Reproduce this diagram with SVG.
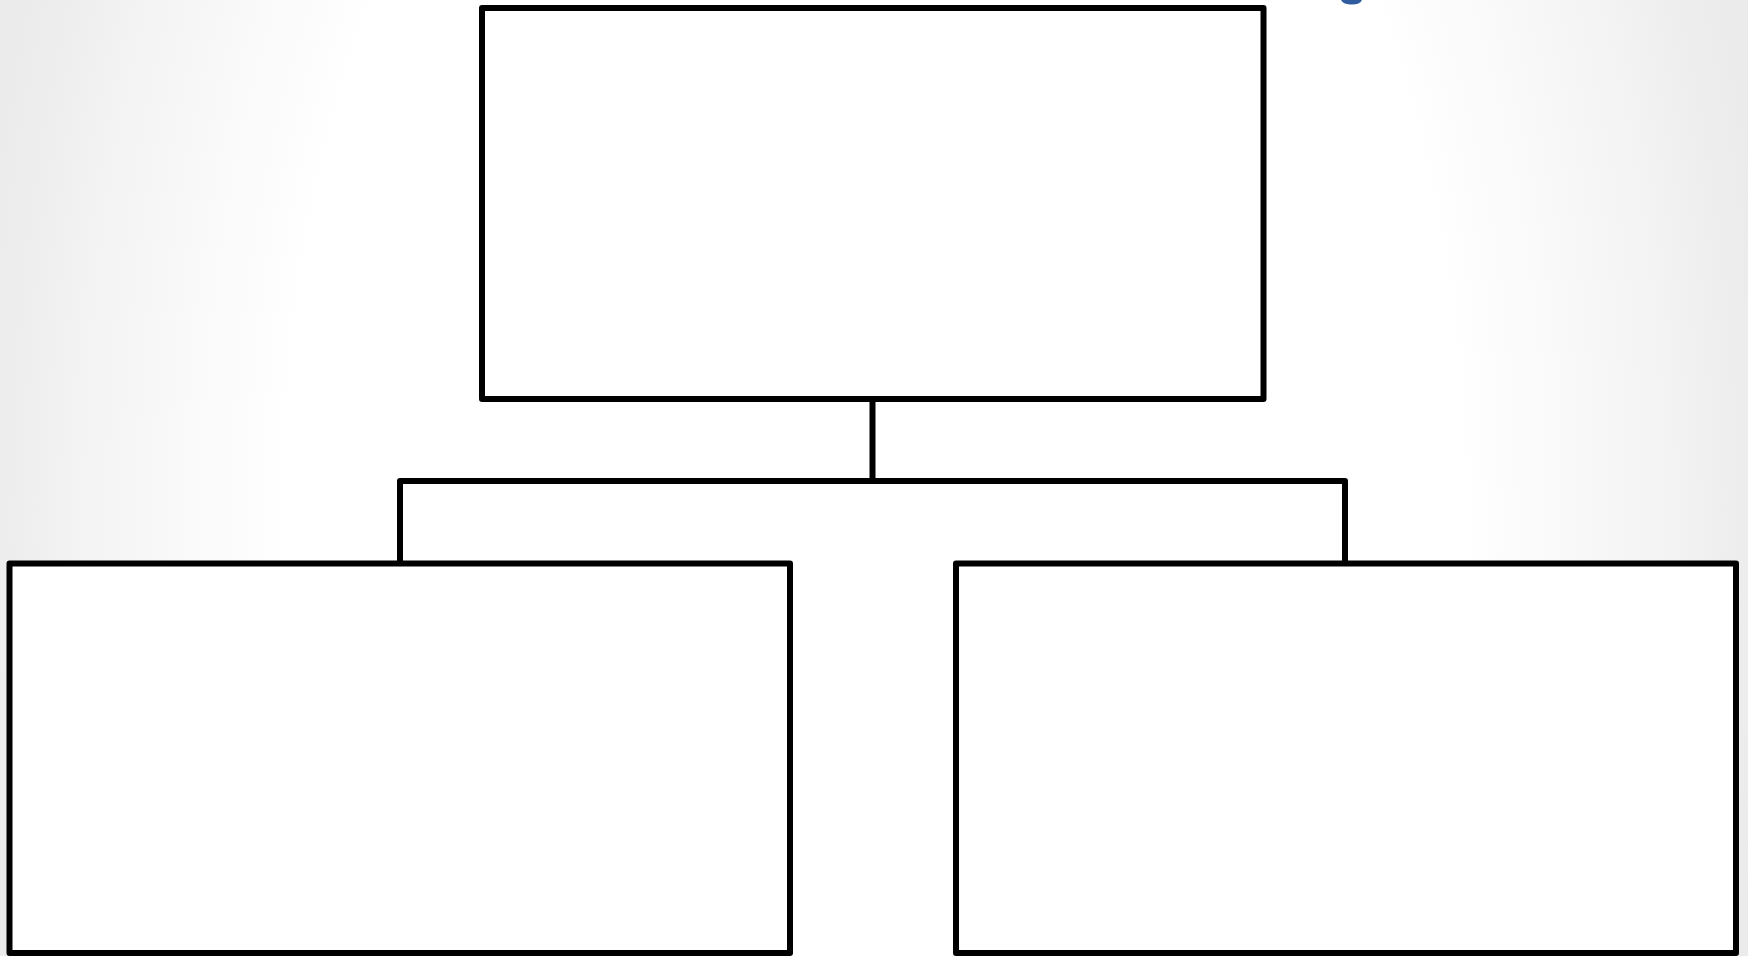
<svg xmlns="http://www.w3.org/2000/svg" width="1748" height="956" viewBox="0 0 1748 956">
<defs>
<radialGradient id="bg" gradientUnits="userSpaceOnUse" cx="0" cy="0" r="1" gradientTransform="translate(874 520) scale(900 1500)">
<stop offset="0" stop-color="#ffffff"/>
<stop offset="0.65" stop-color="#ffffff"/>
<stop offset="0.85" stop-color="#f5f5f5"/>
<stop offset="1" stop-color="#ebebeb"/>
</radialGradient>
<style>
.box{fill:#ffffff;stroke:#000000;stroke-width:6;stroke-linejoin:round}
.con{fill:none;stroke:#000000;stroke-width:6;stroke-linejoin:round}
</style>
</defs>
<rect x="0" y="0" width="1748" height="956" fill="url(#bg)"/>
<path d="M1341,0 L1362,0 Q1360,5 1350,4.5 Q1343,4 1341,0 Z" fill="#2f5c9f"/>
<g id="connectors">
<path class="con" d="M872.5,399 L872.5,481"/>
<path class="con" d="M400,563 L400,481 L1345,481 L1345,563"/>
</g>
<g id="node-top"><rect class="box" x="482" y="8" width="781.5" height="391"/></g>
<g id="node-left"><rect class="box" x="9.5" y="563.5" width="780.5" height="389.5"/></g>
<g id="node-right"><rect class="box" x="956" y="563.5" width="780" height="389.5"/></g>
</svg>
